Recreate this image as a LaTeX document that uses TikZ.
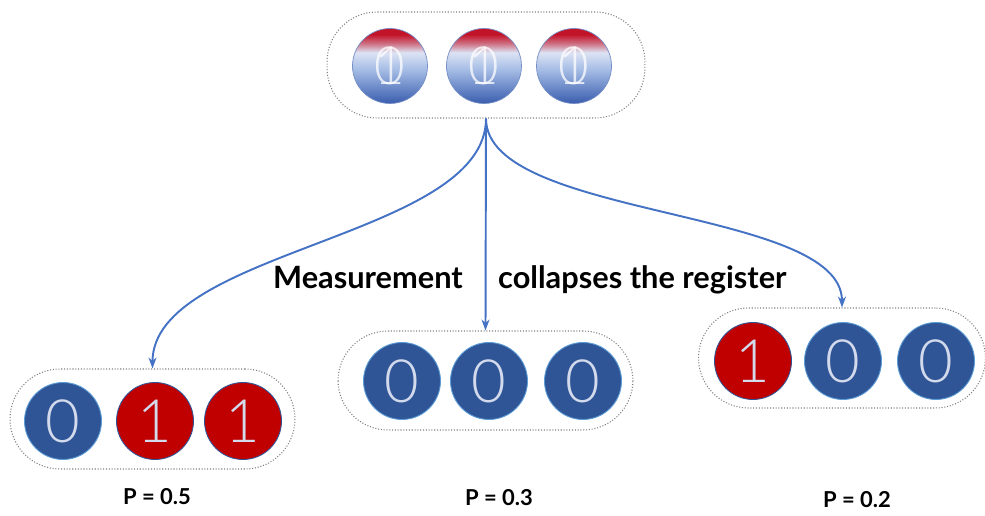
\documentclass[tikz,border=0pt]{standalone}
\usepackage{fontspec}
\setmainfont{Lato}
\newfontfamily\digitfont{Lato Light}
\usetikzlibrary{positioning,arrows.meta}
\usepackage{xcolor}

\definecolor{qblue}{HTML}{2F5597}
\definecolor{qred}{HTML}{C00000}
\definecolor{qrim}{HTML}{5B9BD5}
\definecolor{qdigit}{HTML}{D2DAEC}
\definecolor{arrowblue}{HTML}{4472C4}
\definecolor{sdeep}{HTML}{3A5DAE}
\definecolor{smid}{HTML}{A7BEE6}
\definecolor{spale}{HTML}{DCE3F3}
\definecolor{sred}{HTML}{C31329}
\pgfdeclareverticalshading{qsup}{100bp}{color(0bp)=(sdeep); color(25bp)=(sdeep);
  color(48bp)=(smid); color(59bp)=(spale); color(65bp)=(sred!55!spale); color(71bp)=(sred); color(100bp)=(sred)}

\begin{document}
\begin{tikzpicture}[
    x=0.02cm, y=-0.02cm,
    reg/.style={draw=gray, densely dotted, line width=0.6pt, rounded corners=1cm},
    qzero/.style={circle, fill=qblue, draw=qrim, line width=0.5pt, minimum size=1.54cm,
      inner sep=0pt, text=qdigit, font=\digitfont\fontsize{34}{34}\selectfont},
    qone/.style={qzero, fill=qred, draw=qblue},
    qsup/.style={circle, shading=qsup, draw=sdeep!70, line width=0.4pt, minimum size=1.5cm,
      inner sep=0pt},
    supdigit/.style={text=white, opacity=0.75, inner sep=0pt, font=\digitfont\fontsize{30}{30}\selectfont},
    label/.style={font=\bfseries\fontsize{17.5}{17.5}\selectfont},
    plabel/.style={font=\bfseries\fontsize{12.5}{12.5}\selectfont},
    arr/.style={-{Stealth[length=2.2mm, width=1.6mm]}, line width=1.1pt, draw=arrowblue}
]
\useasboundingbox (0,0) rectangle (985,516);

% registers
\node[reg, minimum width=6.36cm, minimum height=2.12cm] (top) at (486,65) {};
\node[reg, minimum width=5.70cm, minimum height=2.00cm] (left) at (152.5,419) {};
\node[reg, minimum width=5.90cm, minimum height=1.98cm] (mid) at (485.5,380.5) {};
\node[reg, minimum width=5.74cm, minimum height=2.00cm] (right) at (842,358) {};

% superposed qubits
\node[qsup] (t1) at (390,66) {};
\node[qsup] (t2) at (484,66) {};
\node[qsup] (t3) at (574,66) {};
\node[supdigit] at (t1) {0};
\node[supdigit] at (t1) {1};
\node[supdigit] at (t2) {0};
\node[supdigit] at (t2) {1};
\node[supdigit] at (t3) {0};
\node[supdigit] at (t3) {1};

% collapsed qubits
\node[qzero] (l1) at (63,421) {0};
\node[qone] (l2) at (155,421) {1};
\node[qone] (l3) at (243,421) {1};

\node[qzero] (m1) at (402,381) {0};
\node[qzero] (m2) at (489,381) {0};
\node[qzero] (m3) at (583,381) {0};

\node[qone] (r1) at (753,361) {1};
\node[qzero] (r2) at (843,361) {0};
\node[qzero] (r3) at (936,361) {0};

% measurement
\draw[arr] (top.south) to[out=-90, in=90, looseness=0.73] (left.north);
\draw[arr] (top.south) -- (mid.north);
\draw[arr] (top.south) to[out=-90, in=90, looseness=0.64] (right.north);

\node[label, anchor=base east] (meas) at (469,289) {Measurement};
\node[label, anchor=base west] (coll) at (492,289) {collapses the register};

\node[plabel] (p1) at (157,497) {P = 0.5};
\node[plabel] (p2) at (499,498) {P = 0.3};
\node[plabel] (p3) at (857,500) {P = 0.2};

\end{tikzpicture}
\end{document}
